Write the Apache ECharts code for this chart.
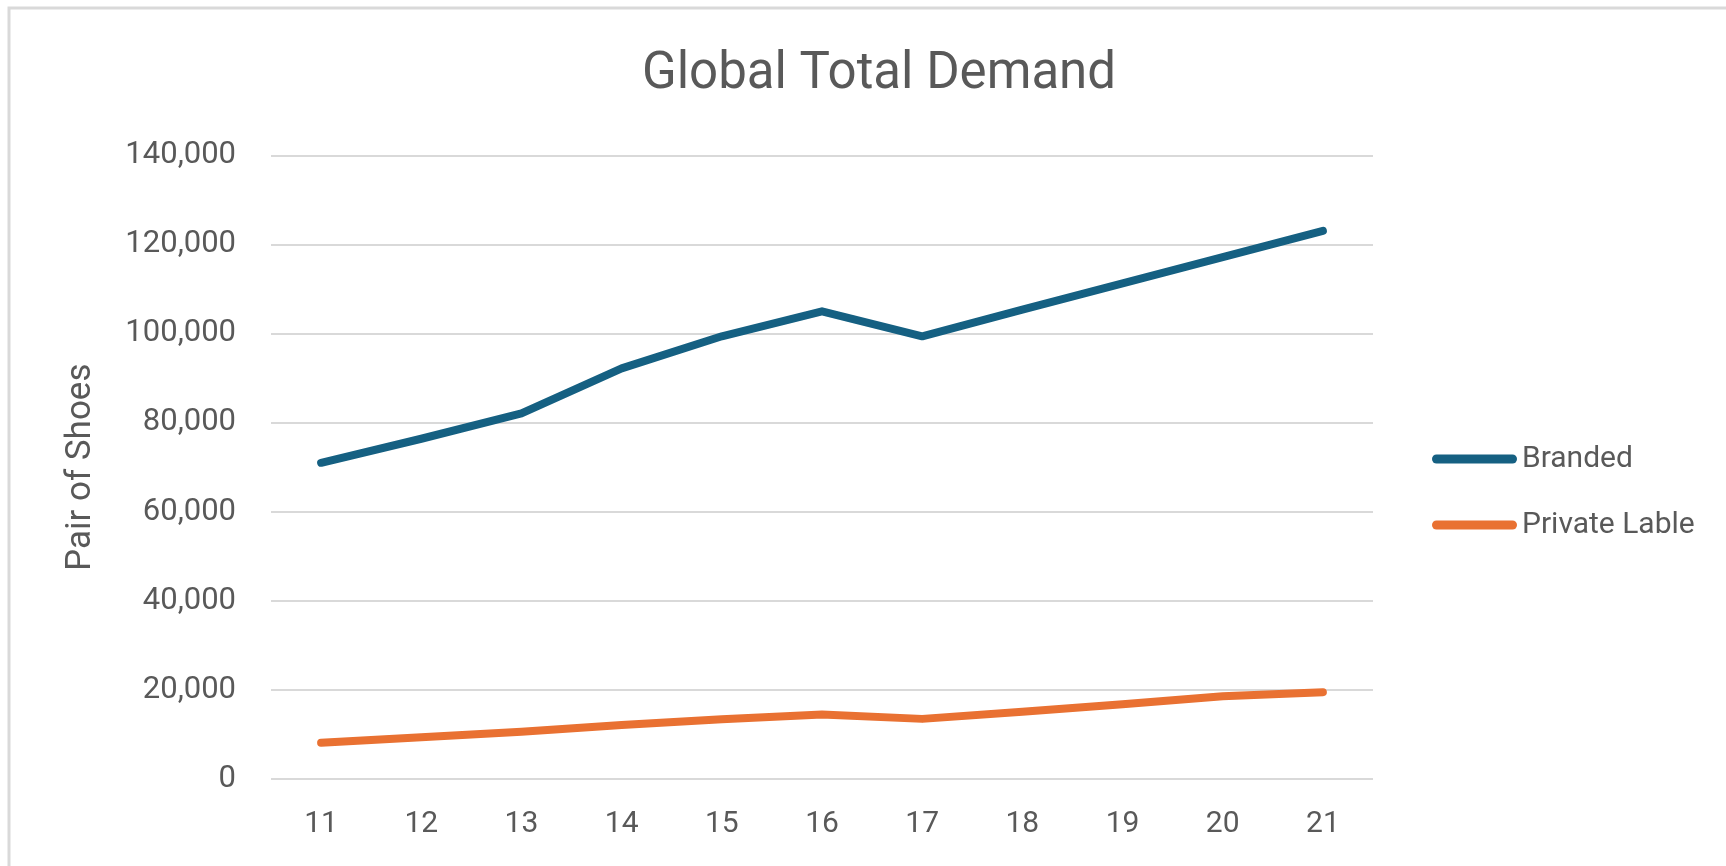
<!DOCTYPE html>
<html>
<head>
<meta charset="utf-8">
<title>Global Total Demand</title>
<script src="https://cdn.jsdelivr.net/npm/echarts@6/dist/echarts.min.js"></script>
<style>
  html, body { margin: 0; padding: 0; background: #ffffff; }
  #chart { width: 1726px; height: 866px; }
</style>
</head>
<body>
<div id="chart"></div>
<script>
// Periods on the horizontal axis
const periods = ['11', '12', '13', '14', '15', '16', '17', '18', '19', '20', '21'];

// Pairs of shoes demanded worldwide, per period
const branded = [71000, 76400, 82100, 92200, 99400, 105000, 99400, 105400, 111300, 117200, 123100];
const privateLable = [8150, 9350, 10600, 12100, 13400, 14500, 13500, 15100, 16800, 18600, 19500];

const seriesNames = ['Branded', 'Private Lable'];
const seriesColors = ['#156082', '#E97132'];

const textGray = '#595959';
const gridGray = '#d9d9d9';
const fontFamily = 'Roboto, "Open Sans", sans-serif';

// Rounded-end line used as legend marker
const pillIcon = 'path://M4.5,0 H80.5 A4.5,4.5 0 0 1 80.5,9 H4.5 A4.5,4.5 0 0 1 4.5,0 Z';

const chart = echarts.init(document.getElementById('chart'), null, { renderer: 'canvas' });

chart.setOption({
  animation: false,
  backgroundColor: '#ffffff',
  title: {
    text: 'Global Total Demand',
    left: 874,
    textAlign: 'center',
    top: 45,
    textStyle: {
      color: textGray,
      fontFamily: fontFamily,
      fontSize: 51,
      fontWeight: 'normal'
    }
  },
  legend: {
    orient: 'vertical',
    left: 1432,
    top: 444,
    padding: 0,
    itemGap: 36,
    itemWidth: 85,
    itemHeight: 9,
    icon: pillIcon,
    textStyle: {
      color: textGray,
      fontFamily: fontFamily,
      fontSize: 30,
      lineHeight: 30
    },
    data: seriesNames
  },
  grid: {
    left: 271,
    top: 155.5,
    width: 1102,
    height: 623.5,
    containLabel: false
  },
  xAxis: {
    type: 'category',
    data: periods,
    boundaryGap: true,
    axisLine: { show: false },
    axisTick: { show: false },
    axisLabel: {
      margin: 30,
      color: textGray,
      fontFamily: fontFamily,
      fontSize: 30
    }
  },
  yAxis: {
    type: 'value',
    min: 0,
    max: 140000,
    interval: 20000,
    name: 'Pair of Shoes',
    nameLocation: 'middle',
    nameGap: 172,
    nameTextStyle: {
      color: textGray,
      fontFamily: fontFamily,
      fontSize: 35
    },
    axisLine: { show: false },
    axisTick: { show: false },
    splitLine: { lineStyle: { color: gridGray, width: 2 } },
    axisLabel: {
      margin: 35,
      color: textGray,
      fontFamily: fontFamily,
      fontSize: 31,
      formatter: v => v.toLocaleString('en-US')
    }
  },
  series: [
    {
      name: seriesNames[0],
      type: 'line',
      data: branded,
      showSymbol: false,
      symbol: 'none',
      color: seriesColors[0],
      lineStyle: { color: seriesColors[0], width: 8, cap: 'round', join: 'round' }
    },
    {
      name: seriesNames[1],
      type: 'line',
      data: privateLable,
      showSymbol: false,
      symbol: 'none',
      color: seriesColors[1],
      lineStyle: { color: seriesColors[1], width: 8, cap: 'round', join: 'round' }
    }
  ],
  graphic: [
    // Chart-area frame along the top and left edges
    {
      type: 'polyline',
      silent: true,
      shape: { points: [[9, 866], [9, 8], [1726, 8]] },
      style: { stroke: gridGray, lineWidth: 3, fill: null }
    }
  ]
});
</script>
</body>
</html>
